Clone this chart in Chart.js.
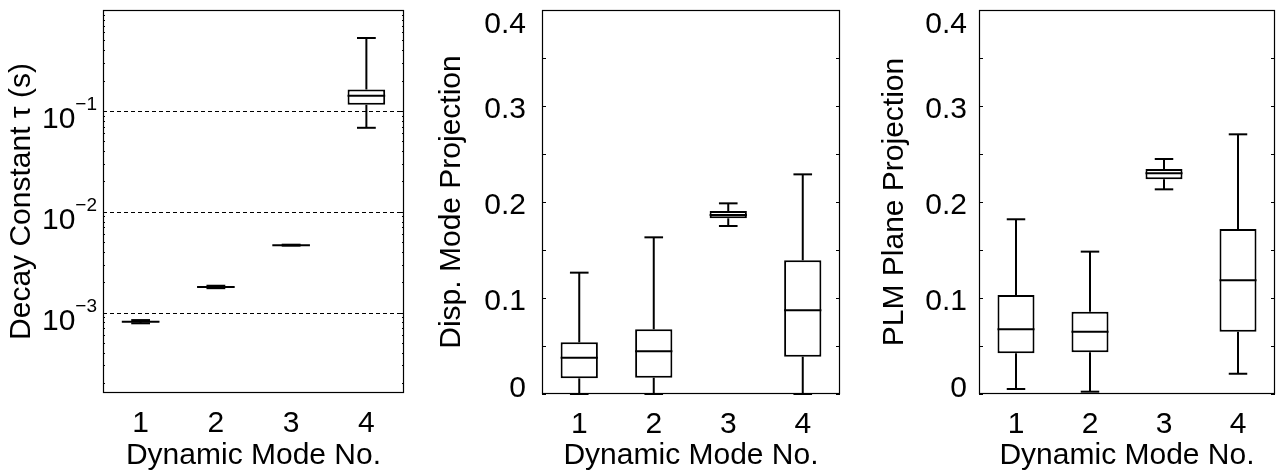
<!DOCTYPE html>
<html>
<head>
<meta charset="utf-8">
<script src="https://cdn.jsdelivr.net/npm/chart.js@4/dist/chart.umd.min.js"></script>
<style>
  html, body { margin: 0; padding: 0; background: #fff; }
  #wrap { position: relative; width: 1280px; height: 472px; overflow: hidden; }
  canvas { position: absolute; top: 0; }
</style>
</head>
<body>
<div id="wrap">
  <canvas id="c1" width="420" height="472" style="left:0px"></canvas>
  <canvas id="c2" width="430" height="472" style="left:420px"></canvas>
  <canvas id="c3" width="430" height="472" style="left:850px"></canvas>
</div>
<script>
// boxplots dos 4 modos dinamicos
const modos = ['1', '2', '3', '4'];

// painel 1: constante de decaimento tau (s)
const tauMin = [7.85e-4, 1.75e-3, 4.62e-3, 0.068];
const tauQ1  = [8.08e-4, 1.79e-3, 4.66e-3, 0.115];
const tauMed = [8.15e-4, 1.80e-3, 4.67e-3, 0.141];
const tauQ3  = [8.24e-4, 1.81e-3, 4.68e-3, 0.163];
const tauMax = [8.45e-4, 1.85e-3, 4.72e-3, 0.528];

// painel 2: projecao no modo de deslocamento
const dispMin = [0, 0, 0.175, 0];
const dispQ1  = [0.0163, 0.017, 0.183, 0.0389];
const dispMed = [0.0378, 0.0445, 0.1865, 0.0872];
const dispQ3  = [0.0538, 0.0674, 0.1906, 0.1393];
const dispMax = [0.1264, 0.1632, 0.1986, 0.2288];

// painel 3: projecao no plano PLM
const plmMin = [0.0052, 0.0024, 0.2132, 0.0211];
const plmQ1  = [0.0424, 0.0434, 0.2236, 0.0649];
const plmMed = [0.0674, 0.0649, 0.2299, 0.1184];
const plmQ3  = [0.1031, 0.0857, 0.2344, 0.1719];
const plmMax = [0.182, 0.1483, 0.2448, 0.2705];

// ticks
const tauDecadas = [1e-3, 1e-2, 1e-1];
const tauExpoentes = ['\u22123', '\u22122', '\u22121'];
const tauMenores = [2e-4, 3e-4, 4e-4, 5e-4, 6e-4, 7e-4, 8e-4, 9e-4,
                    2e-3, 3e-3, 4e-3, 5e-3, 6e-3, 7e-3, 8e-3, 9e-3,
                    2e-2, 3e-2, 4e-2, 5e-2, 6e-2, 7e-2, 8e-2, 9e-2,
                    0.2, 0.3, 0.4, 0.5, 0.6, 0.7, 0.8, 0.9];
const linTicks = [0, 0.05, 0.1, 0.15, 0.2, 0.25, 0.3, 0.35, 0.4];
const linRotulos = [0, 0.1, 0.2, 0.3, 0.4];
const linTextos = ['0', '0.1', '0.2', '0.3', '0.4'];

const FONTE = "'Liberation Sans', Arial, Helvetica, sans-serif";
const TAM = 30;

function linha(ctx, x1, y1, x2, y2) {
  ctx.beginPath();
  ctx.moveTo(x1, y1);
  ctx.lineTo(x2, y2);
  ctx.stroke();
}

// desenha bigodes, medianas, moldura, ticks e rotulos do eixo y
const caixasPlugin = {
  id: 'caixas',
  beforeDatasetsDraw(chart) {
    const cfg = chart.options.plugins.caixas;
    const { ctx, chartArea: a } = chart;
    const y = chart.scales.y;
    if (!cfg.grade) return;
    ctx.save();
    ctx.strokeStyle = '#000';
    ctx.lineWidth = 1;
    ctx.setLineDash([4, 3]);
    cfg.grade.forEach(v => {
      const py = Math.round(y.getPixelForValue(v)) + 0.5;
      linha(ctx, a.left, py, a.right, py);
    });
    ctx.restore();
  },
  afterDatasetsDraw(chart) {
    const cfg = chart.options.plugins.caixas;
    const { ctx } = chart;
    const y = chart.scales.y;
    const meta = chart.getDatasetMeta(0);
    ctx.save();
    ctx.strokeStyle = '#000';
    ctx.lineWidth = 2;
    meta.data.forEach((bar, i) => {
      const x = bar.x, meia = bar.width / 2, cap = bar.width / 4;
      const yMin = y.getPixelForValue(cfg.min[i]);
      const yQ1 = y.getPixelForValue(cfg.q1[i]);
      const yMed = y.getPixelForValue(cfg.med[i]);
      const yQ3 = y.getPixelForValue(cfg.q3[i]);
      const yMax = y.getPixelForValue(cfg.max[i]);
      linha(ctx, x, yQ3, x, yMax);
      linha(ctx, x - cap, yMax, x + cap, yMax);
      linha(ctx, x, yQ1, x, yMin);
      linha(ctx, x - cap, yMin, x + cap, yMin);
      linha(ctx, x - meia, yMed, x + meia, yMed);
    });
    ctx.restore();
  },
  afterDraw(chart) {
    const cfg = chart.options.plugins.caixas;
    const { ctx, chartArea: a } = chart;
    const y = chart.scales.y;
    ctx.save();
    ctx.strokeStyle = '#000';
    ctx.lineWidth = 1.2;
    ctx.strokeRect(a.left + 0.5, a.top + 0.5, a.right - a.left - 1, a.bottom - a.top - 1);
    ctx.lineWidth = 1;
    // ticks para dentro, dos dois lados
    (cfg.ticks || []).forEach(v => {
      const py = Math.round(y.getPixelForValue(v)) + 0.5;
      linha(ctx, a.left, py, a.left + 4, py);
      linha(ctx, a.right - 4, py, a.right, py);
    });
    (cfg.menores || []).forEach(v => {
      const py = Math.round(y.getPixelForValue(v)) + 0.5;
      linha(ctx, a.left, py, a.left + 2, py);
      linha(ctx, a.right - 2, py, a.right, py);
    });
    ctx.fillStyle = '#000';
    if (cfg.log) {
      // rotulos 10^k com expoente sobrescrito
      tauDecadas.forEach((v, i) => {
        const py = y.getPixelForValue(v);
        const xd = a.left - 6;
        ctx.font = `19px ${FONTE}`;
        ctx.textAlign = 'right';
        ctx.textBaseline = 'alphabetic';
        const w = ctx.measureText(tauExpoentes[i]).width;
        ctx.fillText(tauExpoentes[i], xd, py - 1);
        ctx.font = `${TAM}px ${FONTE}`;
        ctx.fillText('10', xd - w, py + 17);
      });
    } else {
      ctx.font = `${TAM}px ${FONTE}`;
      ctx.textAlign = 'right';
      ctx.textBaseline = 'alphabetic';
      linRotulos.forEach((v, i) => {
        let cy = y.getPixelForValue(v) + 1.5;
        if (i === 0) cy = a.bottom - 8;
        if (i === linRotulos.length - 1) cy = a.top + 12.7;
        ctx.fillText(linTextos[i], a.left - cfg.gapRotulo, cy + TAM * 0.358);
      });
    }
    ctx.restore();
  }
};

function criaPainel(id, p) {
  const ctx = document.getElementById(id).getContext('2d');
  return new Chart(ctx, {
    type: 'bar',
    data: {
      labels: modos,
      datasets: [{
        data: modos.map((_, i) => [p.q1[i], p.q3[i]]),
        backgroundColor: '#fff',
        borderColor: '#000',
        borderWidth: 2,
        borderSkipped: false,
        categoryPercentage: 1,
        barPercentage: 0.5
      }]
    },
    options: {
      responsive: false,
      animation: false,
      events: [],
      layout: { padding: { top: 10, right: p.direita, left: 0, bottom: 0 } },
      plugins: {
        legend: { display: false },
        tooltip: { enabled: false },
        caixas: p
      },
      scales: {
        x: {
          grid: { display: false, drawTicks: false },
          border: { display: false },
          ticks: { color: '#000', font: { family: FONTE, size: TAM }, padding: 13 },
          title: {
            display: true, text: 'Dynamic Mode No.', color: '#000',
            font: { family: FONTE, size: TAM, lineHeight: 1 },
            padding: { top: 0, bottom: 1 }
          },
          afterFit: s => { s.height = p.alturaX; }
        },
        y: {
          type: p.log ? 'logarithmic' : 'linear',
          min: p.ymin,
          max: p.ymax,
          grid: { display: false },
          border: { display: false },
          ticks: { display: false },
          title: {
            display: true, text: p.titulo, color: '#000',
            font: { family: FONTE, size: TAM, lineHeight: 1 },
            padding: { top: p.padTitulo, bottom: 0 }
          },
          afterFit: s => { s.width = p.larguraY; }
        }
      }
    },
    plugins: [caixasPlugin]
  });
}

criaPainel('c1', {
  min: tauMin, q1: tauQ1, med: tauMed, q3: tauQ3, max: tauMax,
  log: true, ymin: 1.6e-4, ymax: 1,
  grade: tauDecadas, ticks: tauDecadas, menores: tauMenores,
  titulo: 'Decay Constant \u03C4 (s)', padTitulo: 7,
  larguraY: 103, direita: 16, alturaX: 79
});

criaPainel('c2', {
  min: dispMin, q1: dispQ1, med: dispMed, q3: dispQ3, max: dispMax,
  log: false, ymin: 0, ymax: 0.4, ticks: linTicks, gapRotulo: 16,
  titulo: 'Disp. Mode Projection', padTitulo: 17,
  larguraY: 122, direita: 10, alturaX: 78
});

criaPainel('c3', {
  min: plmMin, q1: plmQ1, med: plmMed, q3: plmQ3, max: plmMax,
  log: false, ymin: 0, ymax: 0.4, ticks: linTicks, gapRotulo: 12,
  titulo: 'PLM Plane Projection', padTitulo: 30,
  larguraY: 129, direita: 5, alturaX: 78
});
</script>
</body>
</html>
